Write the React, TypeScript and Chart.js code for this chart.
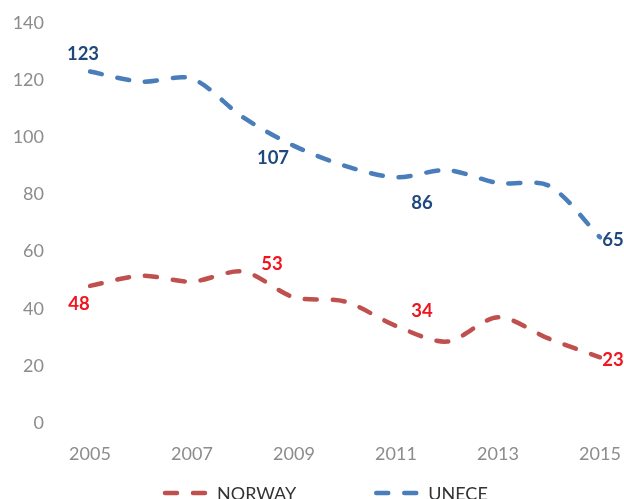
import React, { useEffect, useRef } from "react";
import { Chart, registerables } from "chart.js";

Chart.register(...registerables);

const years = ["2005", "2006", "2007", "2008", "2009", "2010", "2011", "2012", "2013", "2014", "2015"];
const norway = [48, 51.5, 49.5, 53, 44, 42.5, 34, 28.5, 37, 29.5, 23];
const unece = [123, 119.5, 120.5, 107, 97, 90, 86, 88.5, 84, 83, 65];
const labeledIdx = [0, 3, 6, 10];
const yTicks = [0, 20, 40, 60, 80, 100, 120, 140];

const FONT = "Lato, 'Open Sans', sans-serif";
const NORWAY_LINE = "#C0504D";
const UNECE_LINE = "#4A7EBB";
const NORWAY_LABEL = "#F0141E";
const UNECE_LABEL = "#1F497D";

// per-dataset label offsets (pixels) for each labeled index
const LABEL_OFFSETS = [
  [[-11, 18], [29, -8], [26, -15], [13, 3]],
  [[-7, -18], [30, 41], [26, 26], [13, 3]],
];

const labelPlugin = {
  id: "pointLabels",
  afterDatasetsDraw(chart: any) {
    const ctx = chart.ctx;
    ctx.save();
    ctx.font = `bold 18.5px ${FONT}`;
    ctx.textAlign = "center";
    ctx.textBaseline = "middle";
    chart.data.datasets.forEach((ds: any, di: number) => {
      const meta = chart.getDatasetMeta(di);
      ctx.fillStyle = ds.labelColor;
      labeledIdx.forEach((idx, k) => {
        const el = meta.data[idx];
        if (!el) return;
        const [dx, dy] = LABEL_OFFSETS[di][k];
        ctx.fillText(String(ds.data[idx]), el.x + dx, el.y + dy);
      });
    });
    ctx.restore();
  },
};

const legendPlugin = {
  id: "dashLegend",
  afterDraw(chart: any) {
    const ctx = chart.ctx;
    ctx.save();
    ctx.font = `18px ${FONT}`;
    ctx.textBaseline = "middle";
    const y = 493;
    const lineLen = 45;
    const gapText = 9;
    const gapItems = 78;
    const ds = chart.data.datasets;
    const widths = ds.map((d: any) => ctx.measureText(d.label).width);
    let x = 163;
    ds.forEach((d: any, i: number) => {
      ctx.strokeStyle = d.borderColor;
      ctx.lineWidth = d.borderWidth;
      ctx.lineCap = "round";
      ctx.setLineDash(d.borderDash);
      ctx.beginPath();
      ctx.moveTo(x + 2, y);
      ctx.lineTo(x + lineLen - 2, y);
      ctx.stroke();
      ctx.setLineDash([]);
      ctx.fillStyle = "#333333";
      ctx.textAlign = "left";
      ctx.fillText(d.label, x + lineLen + gapText, y + 1);
      x += lineLen + gapText + widths[i] + gapItems;
    });
    ctx.restore();
  },
};

export default function App() {
  const ref = useRef<HTMLCanvasElement | null>(null);
  useEffect(() => {
    if (!ref.current) return;
    const chart = new Chart(ref.current, {
      type: "line",
      data: {
        labels: years,
        datasets: [
          {
            label: "NORWAY",
            data: norway,
            borderColor: NORWAY_LINE,
            borderWidth: 4.5,
            borderDash: [12, 16],
            borderCapStyle: "round",
            pointRadius: 0,
            tension: 0.3,
            fill: false,
            labelColor: NORWAY_LABEL,
          } as any,
          {
            label: "UNECE",
            data: unece,
            borderColor: UNECE_LINE,
            borderWidth: 4.5,
            borderDash: [12, 16],
            borderCapStyle: "round",
            pointRadius: 0,
            tension: 0.3,
            fill: false,
            labelColor: UNECE_LABEL,
          } as any,
        ],
      },
      options: {
        animation: false,
        responsive: true,
        maintainAspectRatio: false,
        layout: { padding: { top: 23, right: 24, bottom: 26, left: 0 } },
        plugins: {
          legend: { display: false },
          tooltip: { enabled: false },
        },
        scales: {
          x: {
            offset: false,
            grid: { display: false, drawTicks: false },
            border: { display: false },
            ticks: {
              autoSkip: false,
              maxRotation: 0,
              padding: 20,
              color: "#8C8C8C",
              font: { family: FONT, size: 18 },
              callback: (_v: any, i: number) => (i % 2 === 0 ? years[i] : ""),
            },
            afterFit: (s: any) => {
              s.height = 50;
              s.paddingLeft = 0;
              s.paddingRight = 0;
            },
          },
          y: {
            min: 0,
            max: 140,
            afterBuildTicks: (s: any) => {
              s.ticks = yTicks.map((v) => ({ value: v }));
            },
            grid: { display: false, drawTicks: false },
            border: { display: false },
            ticks: {
              padding: 46,
              color: "#8C8C8C",
              font: { family: FONT, size: 18 },
            },
            afterFit: (s: any) => {
              s.width = 90;
              s.paddingTop = 0;
              s.paddingBottom = 0;
            },
          },
        },
      },
      plugins: [labelPlugin, legendPlugin],
    });
    return () => chart.destroy();
  }, []);
  return (
    <div style={{ position: "fixed", left: 0, top: 0, width: 624, height: 499 }}>
      <canvas ref={ref} />
    </div>
  );
}
